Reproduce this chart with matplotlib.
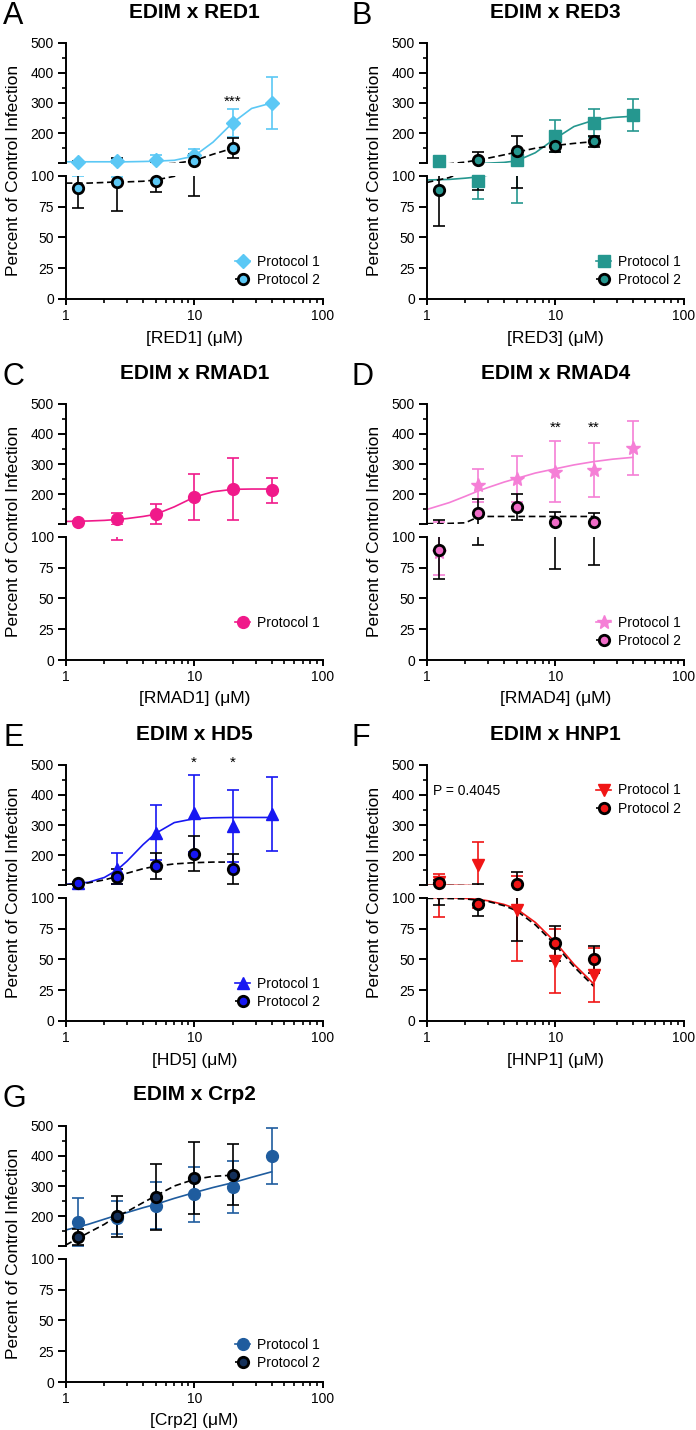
import matplotlib
matplotlib.use("Agg")
import matplotlib.pyplot as plt
from matplotlib.lines import Line2D
from matplotlib.ticker import LogLocator, NullFormatter, FixedLocator

plt.rcParams['font.family'] = ['Liberation Sans', 'DejaVu Sans']

# concentrations (uM)
conc = [1.25, 2.5, 5, 10, 20, 40]
conc_p2 = [1.25, 2.5, 5, 10, 20]
fit_x = [1, 1.5, 2, 2.5, 3, 4, 5, 7, 10, 14, 20, 28, 40]
fit_x_p2 = fit_x[:11]

# A: RED1
red1_p1 = [103, 107, 110, 128, 234, 301]
red1_p1_sd = [3, 8, 16, 21, 46, 86]
red1_p2 = [90, 95, 96, 106.5, 151]
red1_p2_sd = [16, 24, 9.5, 23, 32]
red1_p1_fit = [105, 105, 105, 105, 105, 106, 107, 110, 124, 170, 235, 282, 300]
red1_p2_fit = [94, 94, 94.5, 95, 95, 95.5, 96.5, 99.5, 109, 130, 150]

# B: RED3
red3_p1 = [106.6, 96, 110, 191, 233, 260]
red3_p1_sd = [5, 14.6, 32, 54, 47, 52]
red3_p2 = [88.6, 112, 140, 158, 172.5]
red3_p2_sd = [29, 24, 50, 22, 17]
red3_p1_fit = [96.5, 97, 98, 99, 100.5, 103, 108, 135, 182, 222, 243, 252, 256]
red3_p2_fit = [94.5, 98.5, 104, 111, 117, 128, 137, 150, 159, 166, 172]

# C: RMAD1
rmad1_p1 = [108.4, 118, 135, 190, 217, 213]
rmad1_p1_sd = [4, 21, 33, 77, 104, 42]
rmad1_p1_fit = [109.5, 111, 113, 116, 119, 126, 133, 158, 190, 208, 216, 217, 217]

# D: RMAD4
rmad4_p1 = [87.6, 229, 250, 275, 279, 352]
rmad4_p1_sd = [19, 55, 75, 102, 90, 90]
rmad4_p2 = [89.6, 138.6, 157, 108, 107]
rmad4_p2_sd = [24, 45, 43, 34, 30]
rmad4_p1_fit = [149, 172, 193, 210, 222, 240, 252, 270, 284, 297, 308, 316, 322]
rmad4_p2_fit = [102, 103, 105, 124, 126, 126, 126, 126, 126, 126, 126]

# E: HD5
hd5_p1 = [106.5, 155, 275, 339, 297, 337]
hd5_p1_sd = [4, 52, 92, 127, 120, 122]
hd5_p2 = [106.5, 129, 164, 204, 153]
hd5_p2_sd = [4, 26, 42, 58, 50]
hd5_p1_fit = [103, 110, 126, 150, 180, 235, 272, 308, 321, 324, 325, 325, 325]
hd5_p2_fit = [102, 108, 118, 129, 140, 155, 163, 171, 175, 177, 177]

# F: HNP1 (no 40 uM point)
hnp1_p1 = [110, 167, 89.7, 49, 37.6]
hnp1_p1_sd = [26, 75, 41, 26, 22]
hnp1_p2 = [106, 95, 104.6, 63, 50]
hnp1_p2_sd = [12, 10, 40, 14, 11]
hnp1_p1_fit = [100, 100, 99.5, 98.7, 97.5, 94.5, 91, 80, 64, 46, 30]
hnp1_p2_fit = [99.5, 99.3, 99, 98, 97, 93.5, 89.5, 78, 62, 44, 28]

# G: Crp2
crp2_p1 = [181, 195, 234, 272, 297, 398]
crp2_p1_sd = [79, 55, 78, 92, 85, 93]
crp2_p2 = [131, 199, 264, 327, 337]
crp2_p2_sd = [26, 67, 109, 120, 101]
crp2_p1_fit = [154, 173, 190, 203, 212, 228, 239, 259, 278, 295, 311, 329, 347]
crp2_p2_fit = [104, 145, 173, 200, 215, 245, 267, 300, 322, 332, 336]

W, H = 696, 1430
fig = plt.figure(figsize=(W / 100, H / 100), dpi=100)

col_left = [65.7, 426.7]
ax_w = 257.0
row_step = 361.0


def rect(left, top, w, h):
    return [left / W, 1 - (top + h) / H, w / W, h / H]


def style_axes(ax, upper):
    ax.set_xscale('log')
    ax.set_xlim(1, 100)
    for s in ['top', 'right']:
        ax.spines[s].set_visible(False)
    ax.spines['left'].set_linewidth(1.4)
    ax.spines['bottom'].set_linewidth(1.4)
    ax.patch.set_alpha(0)
    ax.tick_params(axis='y', which='major', length=5.5, width=1.4, labelsize=10, pad=3)
    ax.tick_params(axis='y', which='minor', length=3, width=1.2)
    if upper:
        ax.set_ylim(100, 500)
        ax.spines['bottom'].set_visible(False)
        ax.set_yticks([100, 200, 300, 400, 500], ['', '200', '300', '400', '500'])
        ax.yaxis.set_minor_locator(FixedLocator([150, 250, 350, 450]))
        ax.tick_params(axis='x', which='both', bottom=False, labelbottom=False)
    else:
        ax.set_ylim(0, 100)
        ax.set_yticks([0, 25, 50, 75, 100])
        ax.yaxis.set_minor_locator(FixedLocator([]))
        ax.set_xticks([1, 10, 100], ['1', '10', '100'])
        ax.xaxis.set_minor_locator(LogLocator(base=10, subs=range(2, 10)))
        ax.xaxis.set_minor_formatter(NullFormatter())
        ax.tick_params(axis='x', which='major', length=4.5, width=1.4, labelsize=10, pad=3)
        ax.tick_params(axis='x', which='minor', length=3, width=1.2)


def draw_series(axs, x, y, sd, fx, fy, color, marker, ms, p2):
    ls = (0, (4, 2.2)) if p2 else '-'
    lc = 'black' if p2 else color
    for ax in axs:
        ax.plot(fx, fy, ls=ls, color=lc, lw=1.2, zorder=2)
        ax.errorbar(x, y, yerr=sd, fmt='none', ecolor=lc, elinewidth=1.2,
                    capsize=4.5, capthick=1.2, zorder=3)
    up, lo = axs
    for xi, yi in zip(x, y):
        ax = up if yi >= 100 else lo
        if p2:
            ax.plot([xi], [yi], marker='o', ms=ms, mfc=color, mec='black',
                    mew=2.0, ls='none', clip_on=False, zorder=6)
        else:
            ax.plot([xi], [yi], marker=marker, ms=ms, color=color,
                    ls='none', clip_on=False, zorder=5)


def handle(color, marker, ms, p2):
    if p2:
        return Line2D([], [], color='black', ls=(0, (2, 1.5)), lw=1.2, marker='o',
                      ms=ms, mfc=color, mec='black', mew=2.0)
    return Line2D([], [], color=color, lw=1.2, marker=marker, ms=ms)


def panel(row, col, letter, name, color, marker, ms, p1, p1_sd, p1_fit,
          p2=None, p2_sd=None, p2_fit=None, p2_face=None, legend_upper=False):
    left = col_left[col]
    top = 42.7 + row * row_step
    up = fig.add_axes(rect(left, top, ax_w, 120.6))
    lo = fig.add_axes(rect(left, top + 133.0, ax_w, 123.3))
    style_axes(up, True)
    style_axes(lo, False)

    px1 = conc[:len(p1)]
    fx1 = fit_x[:len(p1_fit)]
    draw_series((up, lo), px1, p1, p1_sd, fx1, p1_fit, color, marker, ms, False)
    handles = [handle(color, marker, ms, False)]
    labels = ['Protocol 1']
    if p2 is not None:
        face = p2_face if p2_face else color
        draw_series((up, lo), conc_p2, p2, p2_sd, fit_x_p2, p2_fit, face, 'o', 7.5, True)
        handles.append(handle(face, 'o', 7.5, True))
        labels.append('Protocol 2')

    lax = up if legend_upper else lo
    anchor = (0.99, 0.845) if legend_upper else (0.99, 0.36)
    lax.legend(handles, labels, loc='upper right', bbox_to_anchor=anchor,
               frameon=False, fontsize=10, handlelength=1.1, handletextpad=0.5,
               labelspacing=0.3, borderpad=0, borderaxespad=0)

    cx = left + ax_w / 2
    fig.text(cx / W, 1 - (12 + row * row_step) / H, name, ha='center', va='center',
             fontsize=15, fontweight='bold')
    fig.text((3 + col * 348) / W, 1 - (1 + row * row_step) / H, letter, ha='left',
             va='top', fontsize=22)
    fig.text((left - 52) / W, 1 - (top + 128) / H, 'Percent of Control Infection',
             rotation=90, ha='center', va='center', fontsize=12.5)
    label = '[' + name.split(' x ')[1] + '] (\u03bcM)'
    fig.text(cx / W, 1 - (top + 256.3 + 39) / H, label, ha='center', va='center',
             fontsize=12.5)
    return up, lo


up, lo = panel(0, 0, 'A', 'EDIM x RED1', '#5BC8F5', 'D', 7.5,
               red1_p1, red1_p1_sd, red1_p1_fit, red1_p2, red1_p2_sd, red1_p2_fit)
up.text(20, 305, '***', ha='center', va='center', fontsize=11)

panel(0, 1, 'B', 'EDIM x RED3', '#25978F', 's', 8,
      red3_p1, red3_p1_sd, red3_p1_fit, red3_p2, red3_p2_sd, red3_p2_fit)

panel(1, 0, 'C', 'EDIM x RMAD1', '#F0198A', 'o', 8.5,
      rmad1_p1, rmad1_p1_sd, rmad1_p1_fit)

up, lo = panel(1, 1, 'D', 'EDIM x RMAD4', '#F57FD6', '*', 10,
               rmad4_p1, rmad4_p1_sd, rmad4_p1_fit, rmad4_p2, rmad4_p2_sd, rmad4_p2_fit,
               p2_face='#F06CC8')
up.text(10, 420, '**', ha='center', va='center', fontsize=11)
up.text(20, 420, '**', ha='center', va='center', fontsize=11)

up, lo = panel(2, 0, 'E', 'EDIM x HD5', '#1717F2', '^', 8.5,
               hd5_p1, hd5_p1_sd, hd5_p1_fit, hd5_p2, hd5_p2_sd, hd5_p2_fit)
up.text(10, 505, '*', ha='center', va='center', fontsize=11)
up.text(20, 505, '*', ha='center', va='center', fontsize=11)

up, lo = panel(2, 1, 'F', 'EDIM x HNP1', '#F01515', 'v', 8.5,
               hnp1_p1, hnp1_p1_sd, hnp1_p1_fit, hnp1_p2, hnp1_p2_sd, hnp1_p2_fit,
               legend_upper=True)
up.text(1.12, 412, 'P = 0.4045', ha='left', va='center', fontsize=10)

panel(3, 0, 'G', 'EDIM x Crp2', '#1F5C9E', 'o', 8.5,
      crp2_p1, crp2_p1_sd, crp2_p1_fit, crp2_p2, crp2_p2_sd, crp2_p2_fit,
      p2_face='#14305A')

fig.savefig('out.png', dpi=100)
